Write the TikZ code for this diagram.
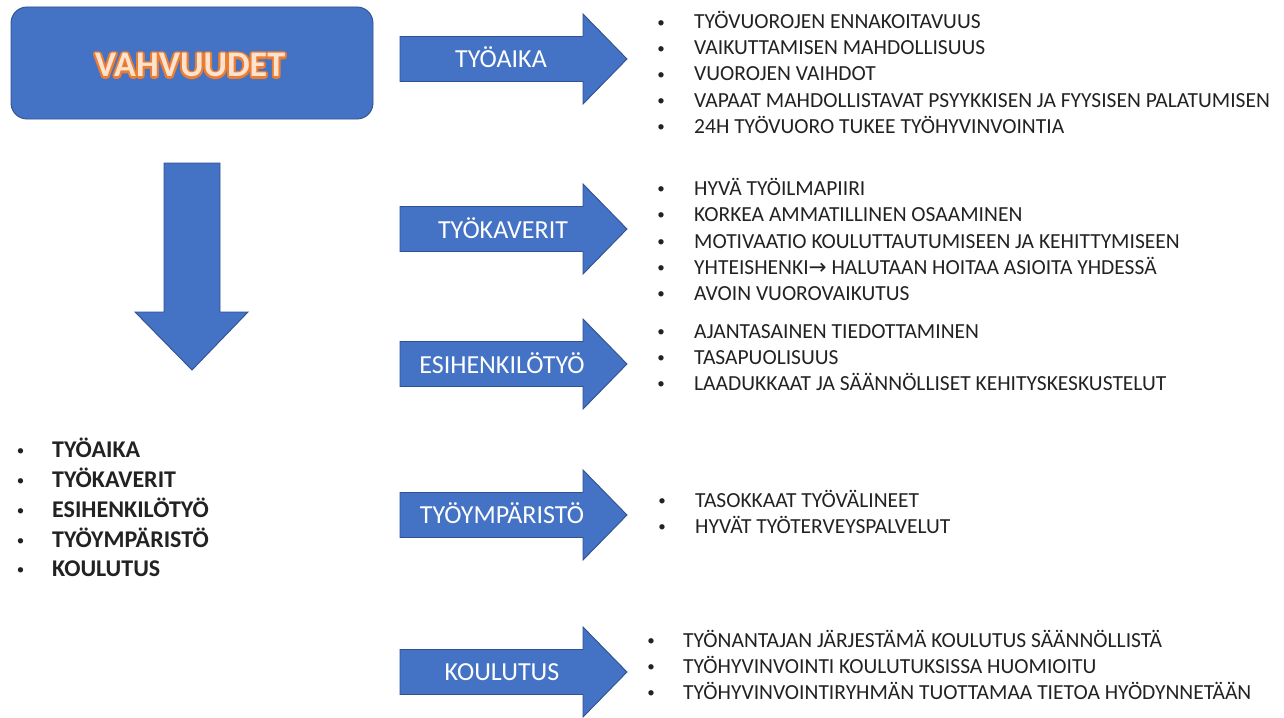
\documentclass[tikz,border=0pt]{standalone}
\usepackage{fontspec}
\setmainfont{Carlito}
\newfontfamily\dejavu{DejaVu Sans}
\definecolor{pblue}{HTML}{4472C4}
\definecolor{pedge}{HTML}{2F528F}
\definecolor{porange}{HTML}{ED7D31}
\definecolor{plight}{HTML}{FBE3D0}
\definecolor{ptext}{HTML}{222222}
\newcommand\litem[5]{%
  \node[bul] (#1b) at (#2,#4) {•};
  \node[itm] (#1) at (#3,#4) {#5};}
\newcommand\bitem[5]{%
  \node[bul] (#1b) at (#2,#4) {•};
  \node[itm,font=\fontsize{24}{28}\selectfont\bfseries] (#1) at (#3,#4) {#5};}
\newcommand\rarrow[2]{%
  \draw[shapestyle] (400,#2-22.5) -- (583,#2-22.5) -- (583,#2-45) -- (627,#2)
    -- (583,#2+45) -- (583,#2+22.5) -- (400,#2+22.5) -- cycle;}
\begin{document}
\begin{tikzpicture}[x=1pt,y=-1pt,
  shapestyle/.style={fill=pblue,draw=pedge,line width=0.9pt,line join=miter},
  lbl/.style={anchor=base,text=white,font=\fontsize{26}{30}\selectfont,inner sep=0pt},
  itm/.style={anchor=base west,text=ptext,font=\fontsize{21.5}{26}\selectfont,inner sep=0pt},
  bul/.style={anchor=base,text=ptext,font=\fontsize{15}{18}\selectfont,inner sep=0pt,yshift=1.8pt},
  vah/.style={anchor=base,font=\fontsize{36}{40}\selectfont\bfseries,inner sep=0pt}]
\useasboundingbox (0,0) rectangle (1284,717);

% main box
\node[shapestyle,rounded corners=16pt,minimum width=362pt,minimum height=112pt,inner sep=0pt] (box) at (192,63) {};
\foreach \a in {0,30,...,330}{
  \node[vah,text=porange] (vg\a) at ([shift={(\a:2pt)}]190,77) {VAHVUUDET};
}
\node[vah,text=plight] (vah) at (190,77) {VAHVUUDET};

% down arrow
\draw[shapestyle] (164,163) -- (220,163) -- (220,312) -- (248,312) -- (192,370)
  -- (135,312) -- (164,312) -- cycle;

% right arrows
\rarrow{a1}{59}
\rarrow{a2}{229}
\rarrow{a3}{364}
\rarrow{a4}{515}
\rarrow{a5}{672}
\node[lbl] (l1) at (501,67) {TYÖAIKA};
\node[lbl] (l2) at (503,238) {TYÖKAVERIT};
\node[lbl] (l3) at (502,373) {ESIHENKILÖTYÖ};
\node[lbl] (l4) at (502,523) {TYÖYMPÄRISTÖ};
\node[lbl] (l5) at (502,680) {KOULUTUS};

% left list
\bitem{s1}{20.5}{52}{457}{TYÖAIKA}
\bitem{s2}{20.5}{52}{487}{TYÖKAVERIT}
\bitem{s3}{20.5}{52}{517}{ESIHENKILÖTYÖ}
\bitem{s4}{20.5}{52}{547}{TYÖYMPÄRISTÖ}
\bitem{s5}{20.5}{52}{576}{KOULUTUS}

% TYÖAIKA list
\litem{p1}{661}{694}{29}{TYÖVUOROJEN ENNAKOITAVUUS}
\litem{p2}{661}{694}{55}{VAIKUTTAMISEN MAHDOLLISUUS}
\litem{p3}{661}{694}{81}{VUOROJEN VAIHDOT}
\litem{p4}{661}{694}{107}{VAPAAT MAHDOLLISTAVAT PSYYKKISEN JA FYYSISEN PALATUMISEN}
\litem{p5}{661}{694}{133}{24H TYÖVUORO TUKEE TYÖHYVINVOINTIA}

% TYÖKAVERIT list
\litem{q1}{661}{694}{195}{HYVÄ TYÖILMAPIIRI}
\litem{q2}{661}{694}{221}{KORKEA AMMATILLINEN OSAAMINEN}
\litem{q3}{661}{694}{248}{MOTIVAATIO KOULUTTAUTUMISEEN JA KEHITTYMISEEN}
\litem{q4}{661}{694}{274}{YHTEISHENKI{\dejavu →} HALUTAAN HOITAA ASIOITA YHDESSÄ}
\litem{q5}{661}{694}{300}{AVOIN VUOROVAIKUTUS}

% ESIHENKILÖTYÖ list
\litem{r1}{661}{694}{338}{AJANTASAINEN TIEDOTTAMINEN}
\litem{r2}{661}{694}{364}{TASAPUOLISUUS}
\litem{r3}{661}{694}{390}{LAADUKKAAT JA SÄÄNNÖLLISET KEHITYSKESKUSTELUT}

% TYÖYMPÄRISTÖ list
\litem{u1}{662}{695}{507}{TASOKKAAT TYÖVÄLINEET}
\litem{u2}{662}{695}{533}{HYVÄT TYÖTERVEYSPALVELUT}

% KOULUTUS list
\litem{k1}{651}{683}{647}{TYÖNANTAJAN JÄRJESTÄMÄ KOULUTUS SÄÄNNÖLLISTÄ}
\litem{k2}{651}{683}{673}{TYÖHYVINVOINTI KOULUTUKSISSA HUOMIOITU}
\litem{k3}{651}{683}{699}{TYÖHYVINVOINTIRYHMÄN TUOTTAMAA TIETOA HYÖDYNNETÄÄN}
\end{tikzpicture}
\end{document}
